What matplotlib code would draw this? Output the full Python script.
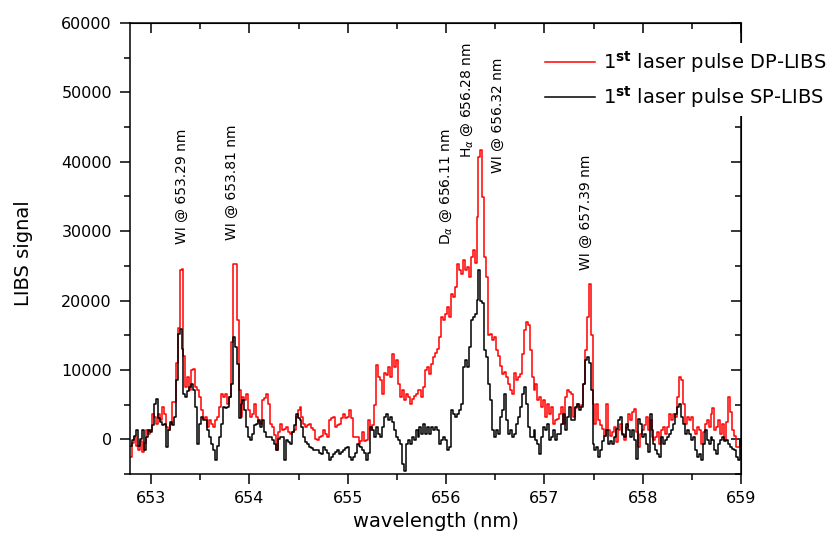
import numpy as np
import matplotlib
matplotlib.use('Agg')
from matplotlib import pyplot as plt
from matplotlib.ticker import MultipleLocator

# wavelength grid (nm), values read every 0.02 nm from the picture
wl_start = 652.80
wl_step = 0.02

# 1st laser pulse DP-LIBS (red)
dp_libs = [
    -2550, -500, 330, -1000, -1600, -300, -1800, -600, 1300, 810,
    1300, 3700, 3220, 2260, 3700, 2740, 4660, 3700, 1780, 1300,
    2260, 5380, 5380, 11000, 16000, 24370, 24500, 12000, 7550, 9000,
    7070, 9960, 10200, 7500, 7070, 6100, 4180, 2900, 3220, 1780,
    2740, 2200, 1780, 2800, 3220, 4660, 6590, 6100, 6590, 5140,
    6100, 14000, 25330, 25330, 17160, 7070, 3220, 6100, 5620, 6590,
    4180, 3220, 3700, 5140, 3220, 2500, 2260, 5620, 6000, 6590,
    5140, 2260, 1780, 600, -1600, 1000, 2260, 1300, 1500, 1780,
    1000, 810, 1100, 1300, 3220, 4200, 4660, 3220, 2260, 1780,
    2000, 2260, 1700, 1300, 0, -160, 330, 500, 1300, 800,
    330, 2740, 3000, 3220, 1780, 2000, 2260, 3000, 3700, 3000,
    3220, 4180, 3000, 330, 330, 300, -640, -300, 1000, -200,
    -160, 2740, 1300, 2000, 5000, 10680, 9000, 8510, 6500, 9500,
    9240, 10440, 9000, 12360, 10440, 11400, 8030, 6100, 7070, 5620,
    6590, 6100, 5140, 5800, 6300, 6590, 7070, 7070, 6100, 7550,
    9960, 10440, 9480, 10920, 11880, 12400, 13000, 14760, 17640, 17160,
    18120, 19080, 17640, 21000, 20520, 21960, 25330, 24370, 23880, 25810,
    24370, 24850, 23400, 26290, 27250, 25380, 32060, 40700, 41670, 34940,
    26290, 23400, 15000, 15240, 14300, 14760, 12840, 12000, 10500, 9480,
    9700, 9000, 8030, 7070, 6590, 9500, 8510, 9000, 9480, 12360,
    15720, 16920, 16500, 12840, 9000, 7070, 8000, 5620, 6100, 4660,
    5620, 3220, 5140, 3700, 4660, 2260, 2740, 2900, 3700, 4660,
    2260, 6100, 7070, 6800, 6590, 3220, 4500, 5140, 4660, 5000,
    8030, 12840, 17640, 22440, 15000, 5140, 2260, 5140, 2740, 2000,
    1500, 500, 5140, 1300, 500, 1000, 1780, -400, 1300, 2260,
    600, -150, 1780, 3700, 2740, 3940, 4420, 1000, -1100, 820,
    1300, 2000, 3220, 1300, 2740, 340, -150, 300, 1000, -620,
    1300, 1780, 820, 1780, 3600, 2740, 3700, 3220, 6100, 9000,
    8500, 5140, 2260, 3220, 2740, 3200, 1300, 820, 1780, 1300,
    -620, 1000, 2260, 2740, 1780, 3700, 4500, 1300, 1780, 2740,
    820, 2260, -150, 2500, 6100, 3940, 1300, 500, -1100, -1100,
    -150,
]

# 1st laser pulse SP-LIBS (black)
sp_libs = [
    -1000, -160, 500, 1300, -1000, 0, 1300, -1600, 330, 1300,
    1000, 2000, 5140, 5860, 3000, 2500, 2000, 2260, -1120, 1300,
    2500, 2000, 3220, 8510, 15240, 15960, 13000, 6500, 6100, 7000,
    7550, 8030, 7070, 4660, -640, 2260, 3220, 2740, 2740, 1300,
    330, -640, -1600, -3040, -1000, 330, 2260, 4660, 4500, 4660,
    6100, 8030, 14760, 13320, 10920, 3000, 5140, 5620, 4180, 1780,
    330, -160, 810, 2000, 2260, 2740, 1780, 2740, 1000, 330,
    330, 330, -160, -640, -1600, 0, 330, 330, -3040, -160,
    -400, -640, 1000, 2000, 3700, 3000, 2740, 1780, 330, -400,
    -640, -1120, -1300, -1600, -1600, -1600, -2000, -2080, -1120, -1600,
    -2000, -3040, -2500, -2080, -1800, -1600, -2080, -1800, -1600, -1300,
    -1120, -2500, -3040, -2560, -2000, -640, -1000, -1120, -1600, -2000,
    -3040, -2000, 1780, 1300, 330, 1780, 800, 330, 1800, 3220,
    3700, 2740, 3220, 2500, 1300, 330, -160, -640, -3500, -4500,
    -700, -160, -640, 330, -160, 1300, 330, 1780, 810, 2260,
    810, 1780, 810, 1780, 1300, 1780, 1300, -640, -160, 330,
    -160, -1600, -1120, 4180, 3700, 3220, 3700, 4180, 5140, 10440,
    11400, 10440, 13320, 17160, 17640, 18120, 20040, 24370, 20000, 19600,
    12840, 11880, 8030, 5620, 1300, 330, 1300, 810, 3220, 4180,
    6590, 2740, 810, 1300, 330, 810, 2260, 3220, 4660, 6590,
    7550, 5140, 1780, 330, 330, 1300, -160, -640, -2080, 330,
    1780, 1300, 2260, -160, 330, 1300, -160, 800, 810, 2260,
    3700, 1300, 3220, 4660, 2740, 2740, 4660, 5140, 4180, 4660,
    8030, 11400, 11880, 11000, 7070, -640, -1600, -1120, -2560, -1600,
    -300, 500, 1300, -620, -300, -620, 340, 1500, 2740, 3220,
    800, 340, 2260, 1300, 340, 1300, -150, -2790, 2980, 2260,
    340, 820, -620, -1830, 3700, 1300, -620, -1600, -2080, -2560,
    340, -620, -150, 340, 820, 1300, 2260, 3700, 4660, 5140,
    3220, 2260, 820, 1300, 820, -150, 340, -1600, -2560, -2080,
    -3040, -620, 1300, -150, -620, 340, -150, -1600, -2080, -620,
    -150, 340, -300, -150, -620, -1100, -1400, -1600, -2560, -3040,
    -150,
]

# line labels
ann_text = ['WI @ 653.29 nm', 'WI @ 653.81 nm', r'D$_\alpha$ @ 656.11 nm',
            r'H$_\alpha$ @ 656.28 nm', 'WI @ 656.32 nm', 'WI @ 657.39 nm']
ann_x = [653.31, 653.82, 656.00, 656.21, 656.53, 657.42]
ann_y = [28200, 28700, 28000, 40500, 38400, 24400]

wl = np.round(wl_start + wl_step * np.arange(len(dp_libs)), 2)

plt.rcParams['font.family'] = 'DejaVu Sans'

fig = plt.figure(figsize=(8.35, 5.43), dpi=100)
ax = fig.add_axes([130/835, 1 - 474/543, 611/835, 451/543])

ax.plot(wl, dp_libs, color='#ff0000', lw=1.1, drawstyle='steps-mid',
        label=r'1$^{\mathbf{st}}$ laser pulse DP-LIBS')
ax.plot(wl, sp_libs, color='black', lw=1.1, drawstyle='steps-mid',
        label=r'1$^{\mathbf{st}}$ laser pulse SP-LIBS')

ax.set_xlim(652.786, 659.0)
ax.set_ylim(-5000, 60000)

ax.xaxis.set_major_locator(MultipleLocator(1))
ax.xaxis.set_minor_locator(MultipleLocator(0.5))
ax.yaxis.set_major_locator(MultipleLocator(10000))
ax.yaxis.set_minor_locator(MultipleLocator(5000))
ax.tick_params(which='both', direction='out', width=1.1, labelsize=11.5)
ax.tick_params(which='major', length=7)
ax.tick_params(which='minor', length=4)
ax.tick_params(axis='x', pad=5)
ax.tick_params(axis='y', pad=6)

# top / right ticks point inward
top = ax.secondary_xaxis('top')
top.xaxis.set_major_locator(MultipleLocator(1))
top.xaxis.set_minor_locator(MultipleLocator(0.5))
top.tick_params(which='both', direction='in', labeltop=False, width=1.1)
top.tick_params(which='major', length=7)
top.tick_params(which='minor', length=4)
right = ax.secondary_yaxis('right')
right.yaxis.set_major_locator(MultipleLocator(10000))
right.yaxis.set_minor_locator(MultipleLocator(5000))
right.tick_params(which='both', direction='in', labelright=False, width=1.1)
right.tick_params(which='major', length=7)
right.tick_params(which='minor', length=4)

for s in ax.spines.values():
    s.set_linewidth(1.1)

ax.set_xlabel('wavelength (nm)', fontsize=14)
ax.set_ylabel('LIBS signal', fontsize=14)
ax.xaxis.set_label_coords(0.5, -0.085)
ax.yaxis.set_label_coords(-0.159, 0.49)

for t, x, y in zip(ann_text, ann_x, ann_y):
    ax.text(x, y, t, rotation=90, ha='center', va='bottom', fontsize=10)

leg = ax.legend(loc='upper left', bbox_to_anchor=(539/835, 1 - 43/543),
                bbox_transform=fig.transFigure, fontsize=14, frameon=True,
                edgecolor='none', facecolor='white', framealpha=1,
                handlelength=2.6, handletextpad=0.4, borderpad=0.3,
                labelspacing=0.5, borderaxespad=0, fancybox=False)
leg.set_zorder(10)

fig.savefig('out.png', dpi=100)
